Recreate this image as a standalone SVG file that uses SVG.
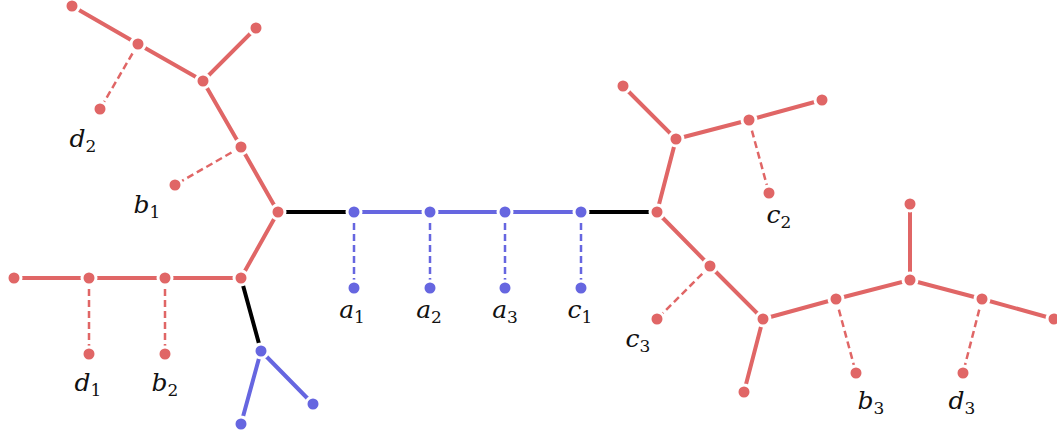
<svg xmlns="http://www.w3.org/2000/svg" width="1057" height="438" viewBox="0 0 1057 438">
<style>
.r{stroke:#e06666;stroke-width:4;fill:none}
.rd{stroke:#e06666;stroke-width:2.5;stroke-dasharray:7 4;fill:none}
.b{stroke:#6666e0;stroke-width:4;fill:none}
.bd{stroke:#6666e0;stroke-width:2.5;stroke-dasharray:7 4;fill:none}
.k{stroke:#000;stroke-width:4;fill:none}
.nr{fill:#e06666;stroke:#fff;stroke-width:3}
.nb{fill:#6666e0;stroke:#fff;stroke-width:3}
text{font-family:"DejaVu Serif","Liberation Serif",serif;font-style:italic;font-size:25px;fill:#111;text-anchor:middle}
.s{font-size:17px;font-style:normal}
</style>
<rect width="1057" height="438" fill="#fff"/>
<g id="connectors">
<path class="r" d="M72 6L138 44L203 81L256 28M203 81L241 147L278 212L241 278M14 278L241 278"/>
<path class="rd" d="M138 44L100 109M241 147L175 185M89 278L89 354M165 278L165 354"/>
<path class="b" d="M354 212L581 212M261 351L241 424M261 351L313 404"/>
<path class="bd" d="M354 212V288M430 212V288M505 212V288M581 212V288"/>
<path class="k" d="M278 212L354 212M581 212L657 212M241 278L261 351"/>
<path class="r" d="M657 212L676 139L623 86M676 139L749 120L822 100M657 212L710 266L763 319L744 392M763 319L836 299L910 280L910 204M910 280L982 299L1054 319"/>
<path class="rd" d="M749 120L769 193M710 266L657 319M836 299L856 373M982 299L963 373"/>
</g>
<g id="n-left">
<circle class="nr" cx="72" cy="6" r="7"/>
<circle class="nr" cx="138" cy="44" r="7"/>
<circle class="nr" cx="203" cy="81" r="7"/>
<circle class="nr" cx="256" cy="28" r="7"/>
<circle class="nr" cx="100" cy="109" r="7"/>
<circle class="nr" cx="241" cy="147" r="7"/>
<circle class="nr" cx="175" cy="185" r="7"/>
<circle class="nr" cx="278" cy="212" r="7"/>
<circle class="nr" cx="241" cy="278" r="7"/>
<circle class="nr" cx="14" cy="278" r="7"/>
<circle class="nr" cx="89" cy="278" r="7"/>
<circle class="nr" cx="165" cy="278" r="7"/>
<circle class="nr" cx="89" cy="354" r="7"/>
<circle class="nr" cx="165" cy="354" r="7"/>
</g>
<g id="n-blue">
<circle class="nb" cx="261" cy="351" r="7"/>
<circle class="nb" cx="241" cy="424" r="7"/>
<circle class="nb" cx="313" cy="404" r="7"/>
<circle class="nb" cx="354" cy="212" r="7"/>
<circle class="nb" cx="430" cy="212" r="7"/>
<circle class="nb" cx="505" cy="212" r="7"/>
<circle class="nb" cx="581" cy="212" r="7"/>
<circle class="nb" cx="354" cy="288" r="7"/>
<circle class="nb" cx="430" cy="288" r="7"/>
<circle class="nb" cx="505" cy="288" r="7"/>
<circle class="nb" cx="581" cy="288" r="7"/>
</g>
<g id="n-right">
<circle class="nr" cx="657" cy="212" r="7"/>
<circle class="nr" cx="676" cy="139" r="7"/>
<circle class="nr" cx="623" cy="86" r="7"/>
<circle class="nr" cx="749" cy="120" r="7"/>
<circle class="nr" cx="822" cy="100" r="7"/>
<circle class="nr" cx="769" cy="193" r="7"/>
<circle class="nr" cx="710" cy="266" r="7"/>
<circle class="nr" cx="657" cy="319" r="7"/>
<circle class="nr" cx="763" cy="319" r="7"/>
<circle class="nr" cx="744" cy="392" r="7"/>
<circle class="nr" cx="836" cy="299" r="7"/>
<circle class="nr" cx="856" cy="373" r="7"/>
<circle class="nr" cx="910" cy="280" r="7"/>
<circle class="nr" cx="910" cy="204" r="7"/>
<circle class="nr" cx="982" cy="299" r="7"/>
<circle class="nr" cx="963" cy="373" r="7"/>
<circle class="nr" cx="1054" cy="319" r="7"/>
</g>
<g id="labels">
<text x="83" y="147">d<tspan class="s" dy="5">2</tspan></text>
<text x="147" y="213">b<tspan class="s" dy="5">1</tspan></text>
<text x="88" y="391">d<tspan class="s" dy="5">1</tspan></text>
<text x="165" y="391">b<tspan class="s" dy="5">2</tspan></text>
<text x="352" y="318">a<tspan class="s" dy="5">1</tspan></text>
<text x="429" y="318">a<tspan class="s" dy="5">2</tspan></text>
<text x="505" y="318">a<tspan class="s" dy="5">3</tspan></text>
<text x="580" y="318">c<tspan class="s" dy="5">1</tspan></text>
<text x="779" y="223">c<tspan class="s" dy="5">2</tspan></text>
<text x="638" y="347">c<tspan class="s" dy="5">3</tspan></text>
<text x="871" y="409">b<tspan class="s" dy="5">3</tspan></text>
<text x="962" y="409">d<tspan class="s" dy="5">3</tspan></text>
</g>
</svg>
